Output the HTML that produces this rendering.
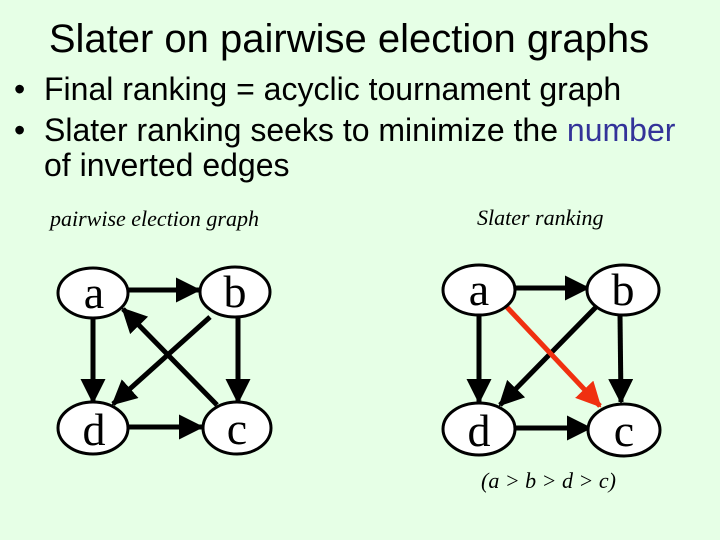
<!DOCTYPE html>
<html><head><style>
body{margin:0;background:#e6ffe6;}
svg{display:block}
</style></head><body>
<svg width="720" height="540" xmlns="http://www.w3.org/2000/svg">
<defs>
<marker id="ab" markerWidth="5" markerHeight="5" refX="4.6" refY="2.5" orient="auto" markerUnits="strokeWidth"><path d="M0,0 L5,2.5 L0,5z" fill="#000"/></marker>
<marker id="ar" markerWidth="5" markerHeight="5" refX="4.6" refY="2.5" orient="auto" markerUnits="strokeWidth"><path d="M0,0 L5,2.5 L0,5z" fill="#f03010"/></marker>
</defs>
<rect width="720" height="540" fill="#e6ffe6"/>
<text x="349" y="52" font-family="Liberation Sans, sans-serif" font-size="40" text-anchor="middle">Slater on pairwise election graphs</text>
<g font-family="Liberation Sans, sans-serif" font-size="32">
<text x="14" y="100">•</text><text x="44" y="100">Final ranking = acyclic tournament graph</text>
<text x="14" y="141">•</text><text x="44" y="141">Slater ranking seeks to minimize the <tspan fill="#333399">number</tspan></text>
<text x="44" y="176">of inverted edges</text>
</g>
<g font-family="Liberation Serif, serif" font-style="italic" font-size="22">
<text x="50" y="226">pairwise election graph</text>
<text x="477" y="225">Slater ranking</text>
<text x="481" y="488">(a &gt; b &gt; d &gt; c)</text>
</g>
<g stroke="#000" stroke-width="5" fill="none" marker-end="url(#ab)">
<line x1="126" y1="290" x2="199" y2="290"/>
<line x1="93" y1="318" x2="93" y2="402"/>
<line x1="238" y1="317" x2="238" y2="402"/>
<line x1="128" y1="427" x2="202" y2="427"/>
<line x1="210" y1="317" x2="113" y2="404"/>
<line x1="217" y1="405" x2="123" y2="309"/>
<line x1="515" y1="288" x2="588" y2="288"/>
<line x1="479" y1="315" x2="479" y2="402"/>
<line x1="620" y1="314" x2="621" y2="402"/>
<line x1="515" y1="428" x2="590" y2="428"/>
<line x1="597" y1="306" x2="500" y2="405"/>
</g>
<line x1="503" y1="303" x2="600" y2="406" stroke="#f03010" stroke-width="5" marker-end="url(#ar)"/>
<g fill="#fff" stroke="#000" stroke-width="3">
<ellipse cx="93" cy="293" rx="35" ry="25"/><ellipse cx="235" cy="292" rx="35" ry="25"/>
<ellipse cx="93" cy="428" rx="35" ry="26"/><ellipse cx="237" cy="428" rx="34" ry="26"/>
<ellipse cx="479" cy="290" rx="36" ry="25"/><ellipse cx="623" cy="290" rx="36" ry="25"/>
<ellipse cx="479" cy="429" rx="36" ry="26"/><ellipse cx="624" cy="430" rx="36" ry="26"/>
</g>
<g font-family="Liberation Serif, serif" font-size="46" text-anchor="middle">
<text x="94" y="308">a</text><text x="235" y="307">b</text>
<text x="94" y="445">d</text><text x="237" y="444">c</text>
<text x="479" y="305">a</text><text x="623" y="305">b</text>
<text x="479" y="446">d</text><text x="624" y="446">c</text>
</g>
</svg>
</body></html>
